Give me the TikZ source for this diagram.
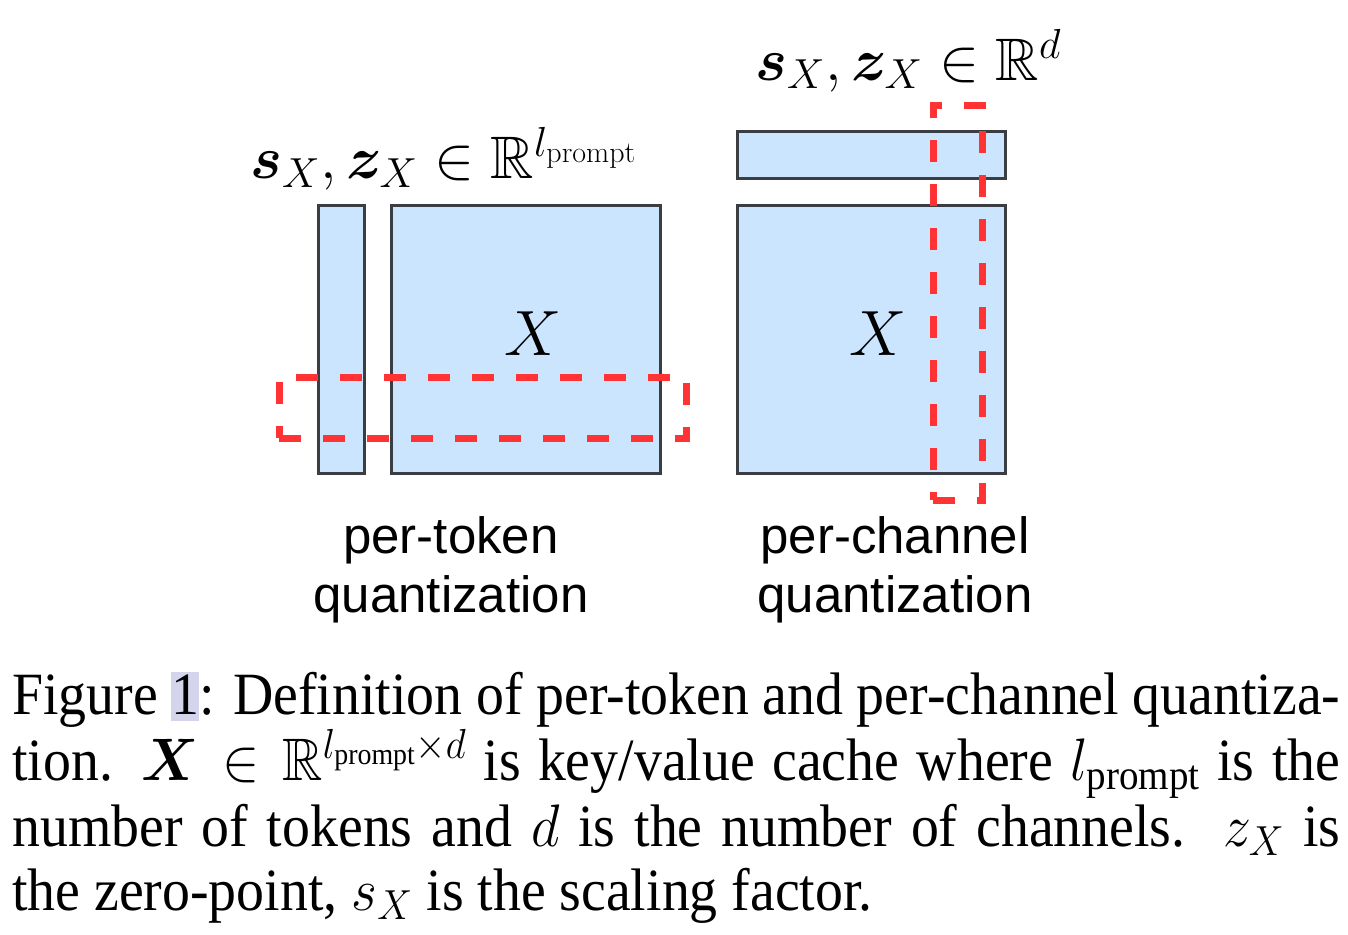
\documentclass[tikz,border=0pt]{standalone}
\usepackage{fix-cm}
\usepackage{amsmath,amssymb,bm}
\usepackage[no-math]{fontspec}
\setmainfont{Liberation Serif}
\newfontfamily\labelsans{Liberation Sans}
\usepackage{graphicx}
\definecolor{boxfill}{RGB}{204,229,255}
\definecolor{boxline}{RGB}{58,61,66}
\definecolor{qred}{RGB}{255,51,51}
\definecolor{hilite}{RGB}{212,212,236}
\newcommand{\hlone}{{\setlength\fboxsep{0pt}\colorbox{hilite}{\rule[-7pt]{0pt}{49pt}1}}}
\tikzset{
  blk/.style={draw=boxline, fill=boxfill, line width=3pt, inner sep=0pt, outer sep=0pt},
  redbox/.style={draw=qred, line width=7pt, dash pattern=on 22pt off 22pt, inner sep=0pt, outer sep=0pt},
  toplbl/.style={inner sep=0pt, anchor=base west, font=\fontsize{60}{66}\selectfont},
  xlbl/.style={inner sep=0pt, font=\fontsize{64}{70}\selectfont},
  sanslbl/.style={inner sep=0pt, anchor=base, font=\labelsans\fontsize{51}{60}\selectfont},
  capline/.style={inner sep=0pt, anchor=base west, font=\fontsize{60}{66}\selectfont},
}
\begin{document}
\begin{tikzpicture}[x=1pt,y=-1pt]
\useasboundingbox (0,0) rectangle (1348,934);
% per-token
\node[blk, minimum width=46pt, minimum height=268pt] (tokscale) at (341.5,339.5) {};
\node[blk, minimum width=269pt, minimum height=268pt] (tokX) at (526,339.5) {};
\node[xlbl] (tokXlbl) at (533,334) {$X$};
\node[redbox, minimum width=407pt, minimum height=61pt] (tokrow) at (482.5,407.5) {};
\node[toplbl] (tokscalelbl) at (250,178) {$\bm{s}_X, \bm{z}_X \in \mathbb{R}^{l_{\mathrm{prompt}}}$};
\node[sanslbl] (tok1) at (451,553) {per-token};
\node[sanslbl] (tok2) at (451,612) {quantization};
% per-channel
\node[blk, minimum width=268pt, minimum height=47pt] (chscale) at (871.5,155) {};
\node[blk, minimum width=268pt, minimum height=268pt] (chX) at (871.5,339.5) {};
\node[xlbl] (chXlbl) at (878,334) {$X$};
\node[redbox, minimum width=49pt, minimum height=395pt] (chcol) at (957.5,302.5) {};
\node[toplbl] (chscalelbl) at (755,80) {$\bm{s}_X, \bm{z}_X \in \mathbb{R}^{d}$};
\node[sanslbl] (ch1) at (895,553) {per-channel};
\node[sanslbl] (ch2) at (895,612) {quantization};
% caption
\node[capline] (cap1) at (12,714) {\scalebox{0.93}[1]{\makebox[1428pt][s]{Figure \hlone: Definition of per-token and per-channel quantiza-}}};
\node[capline] (cap2) at (12,780) {\scalebox{0.93}[1]{\makebox[1428pt][s]{tion. $\bm{X}\in\mathbb{R}^{l_{\text{prompt}}\times d}$ is key/value cache where $l_{\text{prompt}}$ is the}}};
\node[capline] (cap3) at (12,846) {\scalebox{0.93}[1]{\makebox[1428pt][s]{number of tokens and $d$ is the number of channels.\ \ $z_X$ is}}};
\node[capline] (cap4) at (12,910) {\scalebox{0.93}[1]{the zero-point, $s_X$ is the scaling factor.}};
\end{tikzpicture}
\end{document}
